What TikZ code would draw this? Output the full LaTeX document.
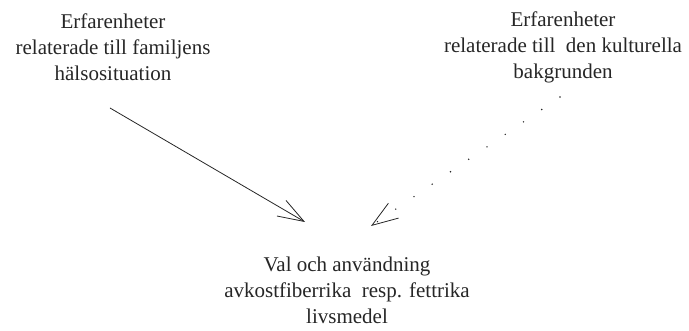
\documentclass[tikz,border=0pt]{standalone}
\usepackage{fontspec}
\setmainfont{Liberation Serif}
\usetikzlibrary{arrows.meta}

\tikzset{
  textblock/.style={align=center, inner sep=0pt, font=\fontsize{21}{26}\selectfont, text=black!85},
  openhead/.style={-{Straight Barb[length=26pt, width=18pt, line width=0.8pt]}},
}

\begin{document}
\begin{tikzpicture}[x=1pt, y=-1pt]
        % Fix the page size (pixels of the reference)
        \useasboundingbox (0,0) rectangle (689,331);

        % Draw the three text blocks
        \node[textblock] (halsa) at (113,47) {Erfarenheter\\relaterade till familjens\\hälsosituation};
        \node[textblock] (kultur) at (563,47) {Erfarenheter\\relaterade till\ \ den kulturella\\bakgrunden};
        \node[textblock] (val) at (347,290) {Val och användning\\avkostfiberrika\ \ resp. fettrika\\livsmedel};

        % End points of the two arrows
        \coordinate (halsa-start) at (110,108);  % below the left block
        \coordinate (halsa-tip) at (305,222);    % above the bottom block
        \coordinate (kultur-start) at (560,97);  % below the right block
        \coordinate (kultur-tip) at (371,226);   % above the bottom block

        % Solid arrow from the left block
        \draw[openhead, line width=0.8pt, black!85] (halsa-start) -- (halsa-tip);

        % Dotted arrow from the right block
        \draw[openhead, line width=1.6pt, line cap=round, dash pattern=on 0pt off 22.1pt, black!85] (kultur-start) -- (kultur-tip);
\end{tikzpicture}
\end{document}
